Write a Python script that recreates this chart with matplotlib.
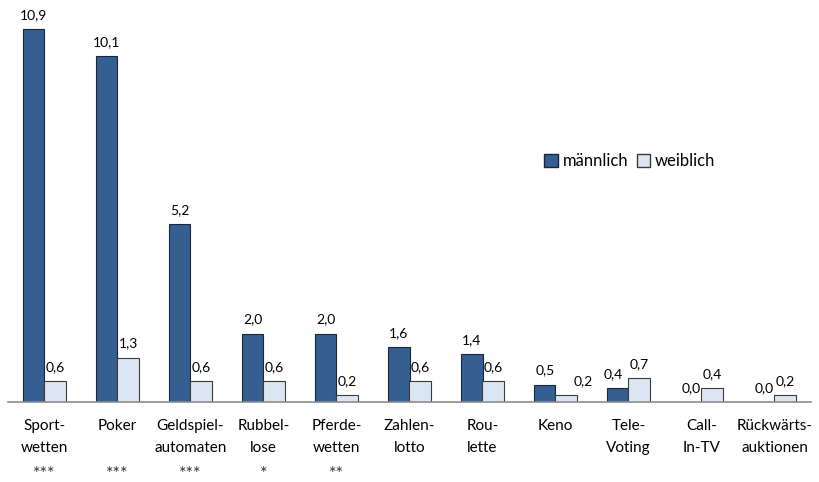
import numpy as np
import matplotlib
matplotlib.use("Agg")
import matplotlib.pyplot as plt
import matplotlib.transforms as mtransforms
from matplotlib.patches import Patch

# Daten
kategorien = ["Sport-\nwetten", "Poker\n", "Geldspiel-\nautomaten", "Rubbel-\nlose",
              "Pferde-\nwetten", "Zahlen-\nlotto", "Rou-\nlette", "Keno\n",
              "Tele-\nVoting", "Call-\nIn-TV", "Rückwärts-\nauktionen"]
signifikanz = ["***", "***", "***", "*", "**", "", "", "", "", "", ""]
maennlich = [10.9, 10.1, 5.2, 2.0, 2.0, 1.6, 1.4, 0.5, 0.4, 0.0, 0.0]
weiblich = [0.6, 1.3, 0.6, 0.6, 0.2, 0.6, 0.6, 0.2, 0.7, 0.4, 0.2]

plt.rcParams['font.family'] = ['Lato', 'DejaVu Sans']

fig = plt.figure(figsize=(8.2, 4.82), dpi=100)
ax = fig.add_axes([8 / 820, 80 / 482, 803 / 820, 390 / 482])

x = np.arange(len(kategorien))
w = 0.29
farbe_m = "#365F91"
farbe_w = "#DCE6F2"

ax.bar(x - w / 2, maennlich, w, color=farbe_m, edgecolor="#17253d", linewidth=0.8)
ax.bar(x + w / 2, weiblich, w, color=farbe_w, edgecolor="#3a3a3a", linewidth=0.8)

def fmt(v):
    return f"{v:.1f}".replace(".", ",")

for i, v in enumerate(maennlich):
    dx = -3 if i == 8 else 0
    ax.annotate(fmt(v), (x[i] - w / 2, v), xytext=(dx, 6), textcoords="offset points",
                ha="center", va="bottom", fontsize=10)
for i, v in enumerate(weiblich):
    dx = 12 if i == 7 else 0
    ax.annotate(fmt(v), (x[i] + w / 2, v), xytext=(dx, 6), textcoords="offset points",
                ha="center", va="bottom", fontsize=10)

ax.set_xlim(-0.5, len(kategorien) - 0.5)
ax.set_ylim(0, 11.4)
ax.set_yticks([])
ax.set_xticks(x)
ax.set_xticklabels(kategorien, fontsize=11, linespacing=1.8, va="top")
ax.tick_params(axis="x", length=0, pad=12)

# Signifikanzsterne unter den Kategorien
trans = mtransforms.blended_transform_factory(ax.transData, fig.transFigure)
for i, s in enumerate(signifikanz):
    ax.text(x[i], 0.0, s, transform=trans, fontsize=13,
            ha="center", va="bottom", color="#333333")

for s in ["top", "right", "left"]:
    ax.spines[s].set_visible(False)
ax.spines["bottom"].set_color("#8c8c8c")
ax.spines["bottom"].set_linewidth(1.2)

handles = [Patch(facecolor=farbe_m, edgecolor="#17253d", label="männlich"),
           Patch(facecolor=farbe_w, edgecolor="#3a3a3a", label="weiblich")]
ax.legend(handles=handles, ncol=2, frameon=False, fontsize=12,
          loc="center", bbox_to_anchor=(622 / 803, 1 - (161 - 12) / 390),
          handlelength=0.8, handleheight=0.8, handletextpad=0.3, columnspacing=0.5)

plt.savefig("out.png", dpi=100)
